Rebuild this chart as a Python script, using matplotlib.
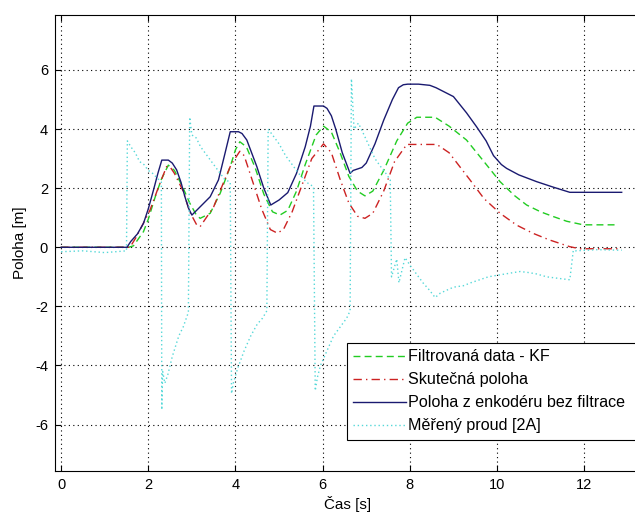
import matplotlib
matplotlib.use("Agg")
import matplotlib.pyplot as plt

plt.rcParams['font.family'] = ['Liberation Sans', 'DejaVu Sans']
plt.rcParams['axes.unicode_minus'] = False

# Poloha z enkoderu bez filtrace
t_enc = [0, 1.51, 1.6, 1.75, 1.89, 2.0, 2.12, 2.22, 2.31, 2.46, 2.55, 2.65, 2.75, 2.84, 2.93,
         3.0, 3.19, 3.42, 3.61, 3.76, 3.88, 4.07, 4.15, 4.26, 4.49, 4.65, 4.81, 5.0, 5.2,
         5.4, 5.6, 5.72, 5.8, 6.02, 6.1, 6.2, 6.3, 6.45, 6.63, 6.7, 6.9, 7.0, 7.2, 7.4, 7.6,
         7.74, 7.85, 7.95, 8.2, 8.46, 8.6, 8.8, 9.0, 9.3, 9.53, 9.75, 9.92, 10.1, 10.22,
         10.5, 10.91, 11.3, 11.67, 12.86]
y_enc = [0, 0, 0.2, 0.45, 0.81, 1.3, 1.94, 2.5, 2.95, 2.95, 2.85, 2.62, 2.2, 1.71, 1.3,
         1.09, 1.37, 1.71, 2.28, 3.18, 3.91, 3.91, 3.85, 3.63, 2.73, 2.0, 1.43, 1.6, 1.85,
         2.5, 3.4, 4.1, 4.78, 4.78, 4.7, 4.45, 4.0, 3.2, 2.5, 2.6, 2.7, 2.85, 3.5, 4.3, 5.0,
         5.4, 5.5, 5.52, 5.52, 5.48, 5.4, 5.25, 5.1, 4.55, 4.08, 3.6, 3.1, 2.8, 2.67,
         2.45, 2.22, 2.03, 1.86, 1.86]

# Filtrovana data - KF
t_kf = [0, 1.55, 1.66, 1.89, 2.0, 2.16, 2.3, 2.46, 2.6, 2.8, 2.95, 3.1, 3.19, 3.42, 3.65,
        3.88, 4.0, 4.1, 4.25, 4.45, 4.65, 4.85, 5.02, 5.2, 5.4, 5.6, 5.85, 6.02, 6.2, 6.4,
        6.6, 6.8, 6.97, 7.15, 7.4, 7.7, 7.95, 8.16, 8.58, 8.9, 9.3, 9.7, 10.07, 10.4,
        10.68, 11.0, 11.29, 11.6, 11.98, 12.78]
y_kf = [0, 0, 0.05, 0.53, 0.95, 1.71, 2.3, 2.78, 2.6, 2.0, 1.5, 1.1, 0.98, 1.15, 1.83,
        2.73, 3.3, 3.57, 3.4, 2.7, 1.8, 1.2, 1.09, 1.25, 1.9, 2.8, 3.8, 4.1, 3.9, 3.2,
        2.4, 1.9, 1.74, 1.9, 2.6, 3.6, 4.2, 4.4, 4.4, 4.1, 3.63, 2.9, 2.22, 1.75,
        1.43, 1.2, 1.04, 0.88, 0.76, 0.76]

# Skutecna poloha
t_real = [0, 1.58, 1.73, 2.04, 2.25, 2.42, 2.5, 2.6, 2.8, 2.95, 3.11, 3.19, 3.5, 3.72, 3.9,
          4.1, 4.2, 4.4, 4.6, 4.8, 4.96, 5.1, 5.3, 5.5, 5.75, 6.02, 6.2, 6.4, 6.6, 6.8,
          6.97, 7.15, 7.4, 7.65, 7.93, 8.62, 8.9, 9.38, 9.7, 10.07, 10.45, 10.83, 11.2,
          11.67, 11.9, 12.86]
y_real = [0, 0, 0.36, 1.26, 2.1, 2.73, 2.72, 2.5, 1.9, 1.2, 0.76, 0.7, 1.37, 2.17, 2.8,
          3.25, 3.1, 2.2, 1.3, 0.6, 0.48, 0.6, 1.2, 2.0, 3.0, 3.5, 3.2, 2.3, 1.5, 1.05,
          0.98, 1.15, 1.9, 2.9, 3.48, 3.48, 3.2, 2.28, 1.65, 1.15, 0.75, 0.47, 0.25,
          0.02, -0.05, -0.05]

# Mereny proud [2A]
t_cur = [0, 0.5, 1.0, 1.5, 1.52, 1.6, 1.7, 1.8, 1.9, 2.0, 2.1, 2.2, 2.3, 2.31, 2.33, 2.38,
         2.45, 2.55, 2.7, 2.8, 2.92, 2.95, 3.0, 3.1, 3.2, 3.3, 3.45, 3.6, 3.75, 3.88, 3.91,
         3.95, 4.05, 4.2, 4.35, 4.5, 4.62, 4.72, 4.75, 4.85, 5.0, 5.15, 5.3, 5.45, 5.63,
         5.79, 5.83, 5.88, 5.95, 6.1, 6.25, 6.4, 6.55, 6.63, 6.66, 6.72, 6.82, 6.95, 7.09,
         7.2, 7.32, 7.45, 7.55, 7.58, 7.7, 7.75, 7.89, 8.0, 8.15, 8.3, 8.45, 8.58, 8.7,
         8.85, 9.0, 9.23, 9.4, 9.6, 9.8, 9.99, 10.2, 10.4, 10.53, 10.7, 10.9, 11.14, 11.4,
         11.67, 11.75, 11.8, 12.3, 12.86]
y_cur = [-0.15, -0.12, -0.18, -0.12, 3.6, 3.4, 3.2, 2.9, 2.8, 2.6, 2.5, 2.35, 2.2, -5.5,
         -4.2, -4.6, -4.3, -3.7, -3.0, -2.7, -2.2, 4.4, 3.8, 3.7, 3.4, 3.2, 2.9, 2.6, 2.3,
         2.2, -4.95, -4.6, -4.1, -3.5, -3.0, -2.6, -2.4, -2.15, 4.0, 3.8, 3.5, 3.1, 2.8,
         2.5, 2.2, 2.05, -4.85, -4.4, -4.0, -3.5, -3.0, -2.7, -2.4, -2.15, 5.7, 4.0, 4.2,
         3.8, 3.35, 3.0, 2.75, 2.5, 2.28, -1.0, -0.4, -1.2, -0.35, -0.6, -0.9, -1.2,
         -1.45, -1.7, -1.55, -1.45, -1.35, -1.3, -1.2, -1.1, -1.0, -0.95, -0.9, -0.85,
         -0.82, -0.85, -0.9, -1.0, -1.05, -1.1, -0.1, -0.12, -0.08, -0.1]

fig = plt.figure(figsize=(6.35, 5.14), dpi=100)
ax = fig.add_axes([55 / 635, 1 - 470.7 / 514, 585 / 635, 455.4 / 514])

ax.plot(t_kf, y_kf, color='#22cc22', linestyle=(0, (5, 3)), lw=1.0, label='Filtrovaná data - KF')
ax.plot(t_real, y_real, color='#cc2222', linestyle=(0, (6, 3, 1, 3)), lw=1.0, label='Skutečná poloha')
ax.plot(t_enc, y_enc, color='#1a1a70', linestyle='-', lw=1.0, label='Poloha z enkodéru bez filtrace')
ax.plot(t_cur, y_cur, color='#55d8d8', linestyle=(0, (1, 2)), lw=1.0, label='Měřený proud [2A]')

ax.set_xlim(-0.14, 13.28)
ax.set_ylim(-7.56, 7.85)
ax.set_xticks([0, 2, 4, 6, 8, 10, 12])
ax.set_yticks([-6, -4, -2, 0, 2, 4, 6])
ax.tick_params(direction='in', labelsize=10.5, top=True, right=False, length=4, pad=5)
ax.spines['right'].set_visible(False)
ax.grid(True, color='black', linestyle=(0, (1, 3)), lw=0.8)
ax.set_xlabel('Čas [s]', fontsize=11, labelpad=3)
ax.set_ylabel('Poloha [m]', fontsize=11, labelpad=6)

# legend box runs past the right edge of the picture, as in the original
leg = ax.legend(loc='upper left', mode='expand',
                bbox_to_anchor=(346.7 / 635, 0, 0.5, 1 - 342.7 / 514),
                bbox_transform=fig.transFigure, handlelength=3.3,
                handletextpad=0.12, borderaxespad=0, borderpad=0.4, labelspacing=0.5,
                fancybox=False, framealpha=1, edgecolor='black',
                prop={'family': ['Liberation Sans', 'DejaVu Sans'], 'size': 11.6})
leg.get_frame().set_linewidth(0.8)

fig.savefig('out.png', dpi=100)
